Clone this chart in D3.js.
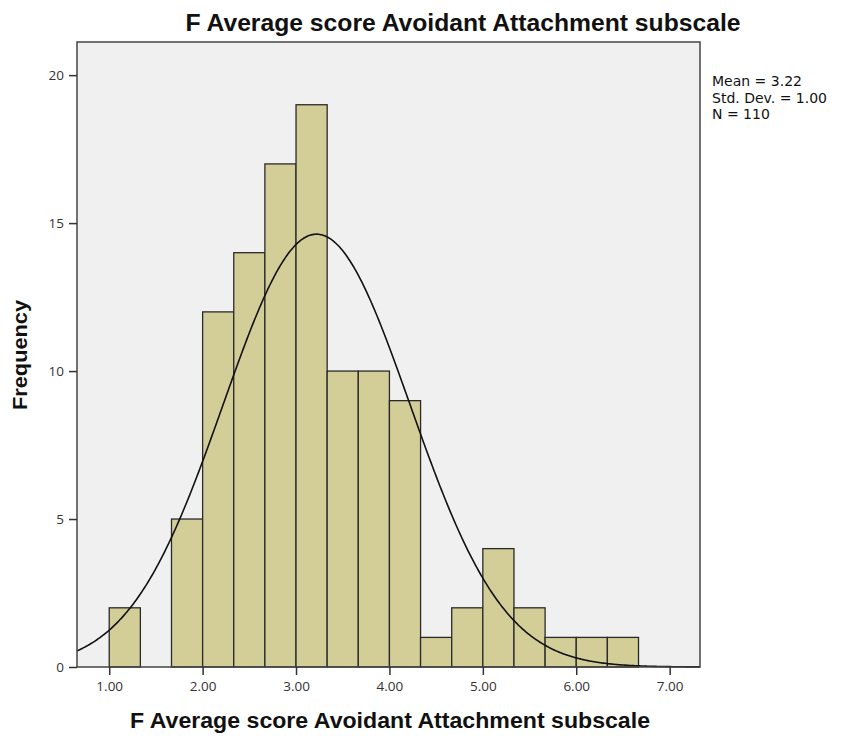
<!DOCTYPE html>
<html><head><meta charset="utf-8">
<script src="https://cdn.jsdelivr.net/npm/d3@7"></script>
<style>body{margin:0;background:#fff;}svg{display:block;}</style>
</head><body>
<svg id="c" width="846" height="737"></svg>
<script>
// Data
const binStarts = [1.0, 1.3333, 1.6667, 2.0, 2.3333, 2.6667, 3.0, 3.3333, 3.6667, 4.0, 4.3333, 4.6667, 5.0, 5.3333, 5.6667, 6.0, 6.3333];
const counts    = [2, 0, 5, 12, 14, 17, 19, 10, 10, 9, 1, 2, 4, 2, 1, 1, 1];
const binWidth = 1/3;
const xTicks = [1, 2, 3, 4, 5, 6, 7];
const yTicks = [0, 5, 10, 15, 20];
const stats = { mean: 3.22, sd: 1.00, n: 110 };
const statLines = ["Mean = 3.22", "Std. Dev. = 1.00", "N = 110"];
const titleText = "F Average score Avoidant Attachment subscale";
const xLabel = "F Average score Avoidant Attachment subscale";
const yLabel = "Frequency";

const svg = d3.select("#c");
const L = 77, R = 700, T = 42, B = 667;
const x = d3.scaleLinear().domain([0.655, 7.325]).range([L, R]);
const y = d3.scaleLinear().domain([0, 21.12]).range([B, T]);

svg.append("rect").attr("x", L).attr("y", T).attr("width", R - L).attr("height", B - T)
  .attr("fill", "#f0f0f0");

// bars
svg.append("g").selectAll("rect").data(binStarts.map((s, i) => ({s, c: counts[i]})).filter(d => d.c > 0))
  .join("rect")
  .attr("x", d => x(d.s)).attr("width", d => x(d.s + binWidth) - x(d.s))
  .attr("y", d => y(d.c)).attr("height", d => y(0) - y(d.c))
  .attr("fill", "#d3ce97").attr("stroke", "#2a2a2a").attr("stroke-width", 1.3);

// normal curve
const xs = d3.range(0, 401).map(i => x.domain()[0] + (x.domain()[1] - x.domain()[0]) * i / 400);
const pdf = v => stats.n * binWidth / (stats.sd * Math.sqrt(2 * Math.PI)) * Math.exp(-0.5 * ((v - stats.mean) / stats.sd) ** 2);
svg.append("path").datum(xs)
  .attr("d", d3.line().x(d => x(d)).y(d => y(pdf(d))).curve(d3.curveBasis))
  .attr("fill", "none").attr("stroke", "#111").attr("stroke-width", 1.6);

// frame
svg.append("rect").attr("x", L).attr("y", T).attr("width", R - L).attr("height", B - T)
  .attr("fill", "none").attr("stroke", "#444").attr("stroke-width", 1.5);

// axes
const xAxis = svg.append("g").attr("transform", `translate(0,${B})`)
  .call(d3.axisBottom(x).tickValues(xTicks).tickFormat(d3.format(".2f")).tickSize(8).tickPadding(6));
const yAxis = svg.append("g").attr("transform", `translate(${L},0)`)
  .call(d3.axisLeft(y).tickValues(yTicks).tickSize(8).tickPadding(5));
[xAxis, yAxis].forEach(g => {
  g.select(".domain").remove();
  g.selectAll(".tick line").attr("stroke", "#333").attr("stroke-width", 1.5);
  g.selectAll(".tick text").attr("fill", "#333").style("font-family", "'Open Sans', 'DejaVu Sans', sans-serif").style("font-size", "13.5px");
});

// title & labels
svg.append("text").attr("x", 463).attr("y", 31).attr("text-anchor", "middle")
  .attr("textLength", 555).attr("lengthAdjust", "spacingAndGlyphs")
  .style("font-family", "'Liberation Sans', Arial, sans-serif").style("font-weight", "bold").style("font-size", "23px")
  .attr("fill", "#111").text(titleText);
svg.append("text").attr("x", 390).attr("y", 728).attr("text-anchor", "middle")
  .attr("textLength", 520).attr("lengthAdjust", "spacingAndGlyphs")
  .style("font-family", "'Liberation Sans', Arial, sans-serif").style("font-weight", "bold").style("font-size", "22px")
  .attr("fill", "#111").text(xLabel);
svg.append("text").attr("transform", "translate(27,355) rotate(-90)").attr("text-anchor", "middle")
  .attr("textLength", 110).attr("lengthAdjust", "spacingAndGlyphs")
  .style("font-family", "'Liberation Sans', Arial, sans-serif").style("font-weight", "bold").style("font-size", "21px")
  .attr("fill", "#111").text(yLabel);

// stats
svg.append("g").selectAll("text").data(statLines).join("text")
  .attr("x", 712).attr("y", (d, i) => 86 + i * 16.5)
  .style("font-family", "'DejaVu Sans', sans-serif").style("font-size", "14px")
  .attr("fill", "#111").text(d => d);
</script>
</body></html>
